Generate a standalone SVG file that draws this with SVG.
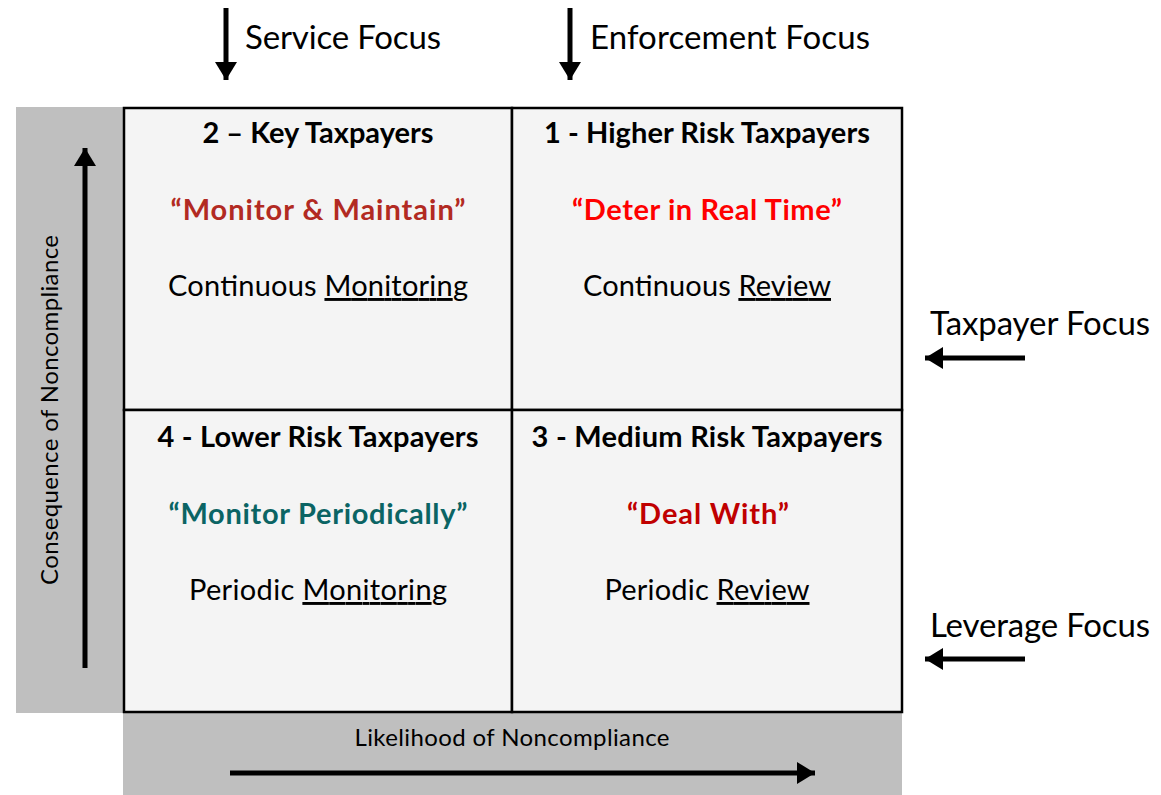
<svg xmlns="http://www.w3.org/2000/svg" width="1161" height="795" viewBox="0 0 1161 795">
<style>
text{font-family:Lato,"Open Sans","Liberation Sans",sans-serif;}
.h{font-size:29px;font-weight:bold;fill:#000;text-anchor:middle;}
.q{font-size:29px;font-weight:bold;text-anchor:middle;}
.s{font-size:29px;fill:#000;text-anchor:middle;}
.f{font-size:33px;fill:#000;}
.ax{font-size:24px;fill:#000;text-anchor:middle;}
.cell{fill:#f4f4f4;stroke:#000;stroke-width:2.5;}
.bar{fill:#bfbfbf;}
.arr{stroke:#000;stroke-width:5;fill:none;}
.u{text-decoration:underline;}
</style>
<defs>
<marker id="ah" markerUnits="userSpaceOnUse" markerWidth="22" markerHeight="22" refX="18" refY="11" orient="auto">
<path d="M0,0 L18,11 L0,22 Z" fill="#000"/>
</marker>
</defs>
<rect class="bar" x="16" y="107" width="108" height="606"/>
<rect class="bar" x="123" y="712" width="779" height="83"/>
<g id="q2"><rect class="cell" x="124" y="108" width="388" height="302"/>
<text class="h" x="318" y="143" textLength="231">2 – Key Taxpayers</text>
<text class="q" x="318" y="220" fill="#b22a22" textLength="295">“Monitor &amp; Maintain”</text>
<text class="s" x="318" y="296" textLength="300">Continuous <tspan class="u">Monitoring</tspan></text></g>
<g id="q1"><rect class="cell" x="512" y="108" width="390" height="302"/>
<text class="h" x="707" y="143" textLength="326">1 - Higher Risk Taxpayers</text>
<text class="q" x="707" y="220" fill="#ff0000" textLength="270">“Deter in Real Time”</text>
<text class="s" x="707" y="296" textLength="248">Continuous <tspan class="u">Review</tspan></text></g>
<g id="q4"><rect class="cell" x="124" y="410" width="388" height="302"/>
<text class="h" x="318" y="447" textLength="321">4 - Lower Risk Taxpayers</text>
<text class="q" x="318" y="524" fill="#0b6464" textLength="299">“Monitor Periodically”</text>
<text class="s" x="318" y="600" textLength="258">Periodic <tspan class="u">Monitoring</tspan></text></g>
<g id="q3"><rect class="cell" x="512" y="410" width="390" height="302"/>
<text class="h" x="707" y="447" textLength="351">3 - Medium Risk Taxpayers</text>
<text class="q" x="708" y="524" fill="#c00000" textLength="162">“Deal With”</text>
<text class="s" x="707" y="600" textLength="205">Periodic <tspan class="u">Review</tspan></text></g>
<g id="labels">
<text class="f" x="245" y="49" textLength="196">Service Focus</text>
<text class="f" x="590" y="49" textLength="280">Enforcement Focus</text>
<text class="f" x="930" y="335" textLength="220">Taxpayer Focus</text>
<text class="f" x="930" y="637" textLength="220">Leverage Focus</text>
<text class="ax" x="512" y="746" textLength="315">Likelihood of Noncompliance</text>
<text class="ax" transform="translate(58,410) rotate(-90)" textLength="350">Consequence of Noncompliance</text>
</g>
<g id="connectors">
<line class="arr" x1="226" y1="8" x2="226" y2="80" marker-end="url(#ah)"/>
<line class="arr" x1="570" y1="8" x2="570" y2="80" marker-end="url(#ah)"/>
<line class="arr" x1="1025" y1="358" x2="925" y2="358" marker-end="url(#ah)"/>
<line class="arr" x1="1025" y1="659" x2="925" y2="659" marker-end="url(#ah)"/>
<line class="arr" x1="85" y1="668" x2="85" y2="148" marker-end="url(#ah)"/>
<line class="arr" x1="230" y1="773" x2="815" y2="773" marker-end="url(#ah)"/>
</g>
</svg>
